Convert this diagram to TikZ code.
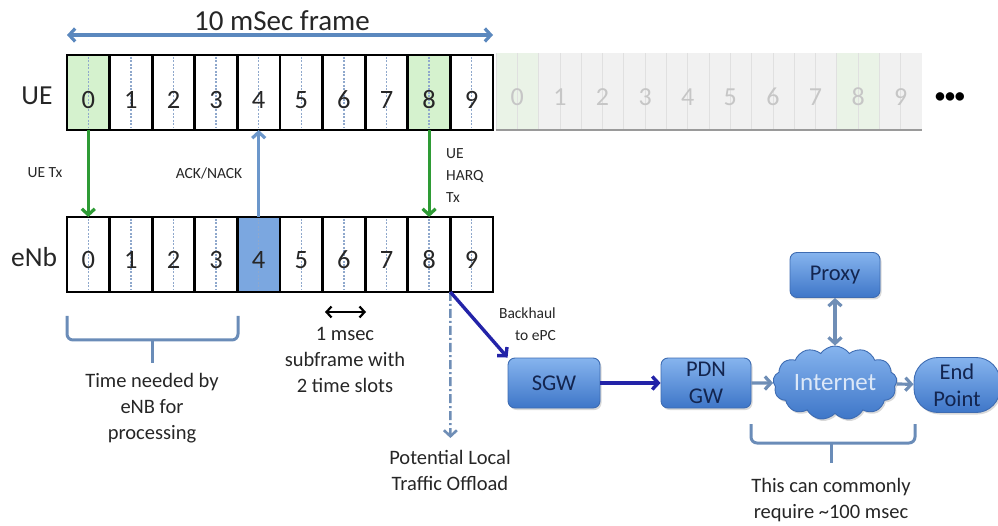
\documentclass[tikz,border=0pt]{standalone}
\usepackage{fontspec}
\setmainfont{Carlito}
\usetikzlibrary{arrows.meta,shapes.symbols,shadows}
\definecolor{greenfill}{HTML}{D5F2CE}
\definecolor{greenarrow}{HTML}{2E9B35}
\definecolor{ackblue}{HTML}{6C97CB}
\definecolor{cellblue}{HTML}{7BA7E0}
\definecolor{framearrow}{HTML}{5B88BE}
\definecolor{midblue}{HTML}{8FA8CC}
\definecolor{bracecol}{HTML}{6A8CB8}
\definecolor{darkblue}{HTML}{2323A8}
\definecolor{grayarrow}{HTML}{6F8EB6}
\definecolor{boxtop}{HTML}{86B4EE}
\definecolor{boxbot}{HTML}{3E76C8}
\definecolor{boxedge}{HTML}{3E6CB2}
\definecolor{boxtext}{HTML}{13254F}
\definecolor{inettext}{HTML}{DCE8F8}
\definecolor{ghostfill}{HTML}{F1F1F1}
\definecolor{ghostline}{HTML}{E0E0E0}
\definecolor{ghostdigit}{HTML}{C6C6C6}
\definecolor{ghostbottom}{HTML}{9A9A9A}
\definecolor{ghostgreen}{HTML}{EAF3E7}
\definecolor{textcol}{HTML}{262626}
\begin{document}
\begin{tikzpicture}[x=1pt,y=-1pt,
  >={Straight Barb[length=6pt,width=13pt]},
  cell/.style={draw=black, line width=2.8pt, minimum width=42.6pt, minimum height=75pt, inner sep=0pt, outer sep=0pt},
  ghostcell/.style={fill=ghostfill, minimum width=42.6pt, minimum height=77pt, inner sep=0pt, outer sep=0pt},
  digit/.style={font=\fontsize{26.5}{30}\selectfont, text=textcol, inner sep=0pt},
  ghostdigit/.style={font=\fontsize{26}{30}\selectfont, text=ghostdigit, inner sep=0pt},
  midline/.style={draw=midblue, dash pattern=on 2pt off 1.5pt, line width=1.3pt, shorten <=2pt, shorten >=2pt},
  rowlabel/.style={font=\fontsize{27.5}{30}\selectfont, text=textcol},
  small/.style={font=\fontsize{15.5}{22}\selectfont, text=textcol, inner sep=0pt},
  body/.style={font=\fontsize{20.5}{26}\selectfont, text=textcol, align=center, inner sep=0pt},
  netbox/.style={draw=boxedge, line width=0.9pt, rounded corners=7pt, top color=boxtop, bottom color=boxbot, text=boxtext, font=\fontsize{22.5}{27}\selectfont, align=center, inner sep=0pt, drop shadow={opacity=0.3, shadow xshift=1.5pt, shadow yshift=-2pt}},
  greenarr/.style={draw=greenarrow, line width=3.2pt, ->},
  grayarr/.style={draw=grayarrow, line width=3.2pt, ->},
  bluearr/.style={draw=darkblue, line width=3.4pt, ->},
  bracestyle/.style={draw=bracecol, line width=3pt, rounded corners=6pt}
]
\useasboundingbox (0,0) rectangle (998,526);

% frame arrow and title
\coordinate (fl) at (67,35);
\coordinate (fr) at (493,35);
\draw[draw=framearrow, line width=3.2pt, <->] (fl) -- (fr);
\node[font=\fontsize{29}{32}\selectfont, text=textcol] (title) at (282,21) {10 mSec frame};

% ghost row
\foreach \i in {0,...,9} {
  \node[ghostcell] (g\i) at ({496+42.6*(\i+0.5)},91.5) {};
}
\node[ghostcell, fill=ghostgreen] (g0x) at (g0) {};
\node[ghostcell, fill=ghostgreen] (g8x) at (g8) {};
\foreach \i in {0,...,9} {
  \draw[ghostline, line width=1pt] (g\i.north west) -- (g\i.south west);
  \draw[ghostline, line width=0.8pt] (g\i.north) -- (g\i.south);
  \node[ghostdigit] (gd\i) at ({496+42.6*(\i+0.5)},97) {\i};
}
\draw[ghostbottom, line width=1.4pt] (g0.south west) -- (g9.south east);
\node[font=\fontsize{20}{24}\selectfont\bfseries, text=black] (dots) at (950,98) {•••};

% UE row
\node[rowlabel] (uelab) at (37,96) {UE};
\foreach \i in {0,...,9} {
  \node[cell] (ue\i) at ({67+42.6*(\i+0.5)},92.5) {};
}
\node[cell, fill=greenfill] (ue0f) at (ue0) {};
\node[cell, fill=greenfill] (ue8f) at (ue8) {};
\foreach \i in {0,...,9} {
  \draw[midline] (ue\i.north) -- (ue\i.south);
  \node[digit] (ud\i) at ({67+42.6*(\i+0.5)},100) {\i};
}

% eNb row
\node[rowlabel] (enblab) at (34,257) {eNb};
\foreach \i in {0,...,9} {
  \node[cell] (enb\i) at ({67+42.6*(\i+0.5)},254.5) {};
}
\node[cell, fill=cellblue] (enb4f) at (enb4) {};
\foreach \i in {0,...,9} {
  \draw[midline] (enb\i.north) -- (enb\i.south);
  \node[digit] (ed\i) at ({67+42.6*(\i+0.5)},260) {\i};
}

% arrows between rows
\draw[greenarr] (ue0.south) -- (enb0.north);
\draw[draw=ackblue, line width=3.2pt, ->] (enb4.north) -- (ue4.south);
\draw[greenarr] (ue8.south) -- (enb8.north);
\node[small] (uetx) at (45,173) {UE Tx};
\node[small] (ack) at (209,173) {ACK/NACK};
\node[small, align=left, anchor=west] (harq) at (446,176) {UE\\HARQ\\Tx};

% brace under eNb 0-3
\draw[bracestyle] (67,316) -- (67,340) -- (238,340) -- (238,316);
\draw[draw=bracecol, line width=3pt] (152.5,340) -- (152.5,363);
\node[body] (proc) at (152,408) {Time needed by\\eNB for\\processing};

% 1 msec
\coordinate (ml) at (325,312);
\coordinate (mr) at (366,312);
\draw[black, line width=2.2pt, <->, >={Straight Barb[length=5pt,width=11pt]}] (ml) -- (mr);
\node[body] (msec) at (345,360) {1 msec\\subframe with\\2 time slots};

% local offload
\coordinate (offend) at (450.4,438);
\draw[draw=grayarrow, line width=2.6pt, dash pattern=on 9pt off 3pt on 2pt off 3pt, ->] (enb8.south east) -- (offend);
\node[body] (offload) at (450,470) {Potential Local\\Traffic Offload};

% network nodes
\node[netbox, minimum width=92pt, minimum height=50pt] (sgw) at (554,383) {SGW};
\node[netbox, minimum width=90pt, minimum height=50pt] (pdn) at (706,383) {PDN\\GW};
\node[netbox, sharp corners, shape=cloud, cloud puffs=13, cloud puff arc=110, aspect=1.9, minimum width=124pt, minimum height=68pt, text=inettext, font=\fontsize{25}{27}\selectfont] (inet) at (835,383) {Internet};
\node[netbox, minimum width=90pt, minimum height=45pt] (proxy) at (835,275) {Proxy};
\node[netbox, rounded corners=24pt, minimum width=86pt, minimum height=55pt] (endp) at (957,385) {End\\Point};

% backhaul
\draw[bluearr] (enb8.south east) -- (sgw.north west);
\node[small, align=right, anchor=east] (bh) at (556,324) {Backhaul\\to ePC};
\draw[bluearr] (sgw) -- (pdn);
\draw[grayarr] (pdn) -- (inet);
\draw[grayarr] (inet) -- (endp);
\draw[grayarr, <->] (proxy) -- (inet);

% brace under internet
\draw[bracestyle] (751,424) -- (751,443) -- (915,443) -- (915,424);
\draw[draw=bracecol, line width=3pt] (831,443) -- (831,463);
\node[body] (common) at (831,500) {This can commonly\\require \textasciitilde100 msec};
\end{tikzpicture}
\end{document}
